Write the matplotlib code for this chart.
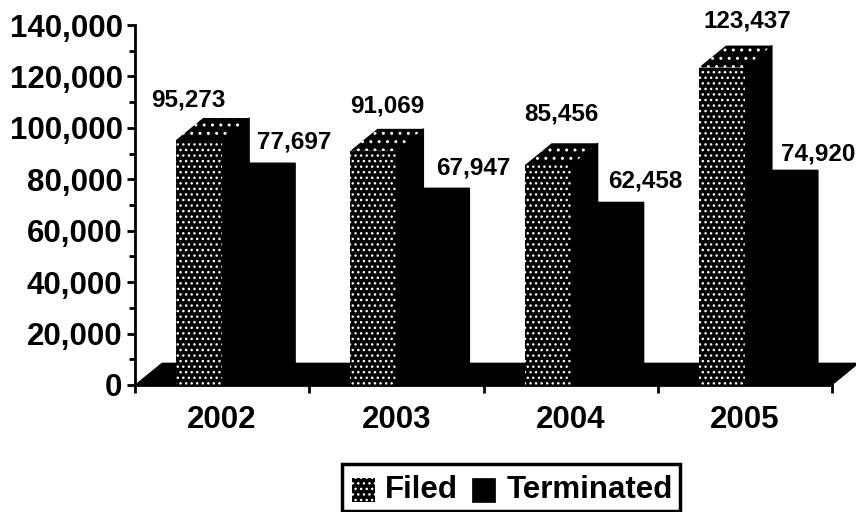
import matplotlib
matplotlib.use("Agg")
import matplotlib.pyplot as plt
from matplotlib.patches import Polygon, Rectangle

years = ["2002", "2003", "2004", "2005"]
filed = [95273, 91069, 85456, 123437]
terminated = [77697, 67947, 62458, 74920]
yticks = [0, 20000, 40000, 60000, 80000, 100000, 120000, 140000]
minor_ticks = [10000, 30000, 50000, 70000, 90000, 110000, 130000]

plt.rcParams["font.family"] = "Liberation Sans"
plt.rcParams["font.weight"] = "bold"
plt.rcParams["hatch.linewidth"] = 1.0

W, H = 856, 512
fig = plt.figure(figsize=(W / 100, H / 100), dpi=100)
# axes box in pixels: x 135..832, y 25..385
ax = fig.add_axes([135 / W, 1 - 385 / H, 697 / W, 360 / H])
ax.set_xlim(0, 4)
ax.set_ylim(0, 140000)

# 3d depth in data units
dx = 27 / 174.25
dy = 22 / 360 * 140000
bw = 0.264


def box(x, v, dots):
    # side and top, then the front
    ax.add_patch(Polygon([(x + bw, 0), (x + bw + dx, dy), (x + bw + dx, v + dy), (x + bw, v)],
                         fc="black", ec="black", lw=1, clip_on=False, zorder=3))
    top = [(x, v), (x + dx, v + dy), (x + bw + dx, v + dy), (x + bw, v)]
    if dots:
        ax.add_patch(Polygon(top, fc="black", ec="white", hatch="..", lw=0,
                             clip_on=False, zorder=3))
        ax.add_patch(Rectangle((x, 0), bw, v, fc="black", ec="white", hatch="...", lw=0,
                               clip_on=False, zorder=4))
    else:
        ax.add_patch(Polygon(top, fc="black", ec="black", lw=1, clip_on=False, zorder=3))
        ax.add_patch(Rectangle((x, 0), bw, v, fc="black", ec="black", lw=1,
                               clip_on=False, zorder=4))


# floor
ax.add_patch(Polygon([(0, 0), (dx, dy), (4 + dx, dy), (4, 0)], fc="black", ec="black",
                     lw=0.5, clip_on=False, zorder=1))

for i in range(4):
    box(i + 0.5 - bw, filed[i], True)
    box(i + 0.5, terminated[i], False)

label_pos_filed = [(188, 100), (387, 106), (561, 114), (747, 21)]
label_pos_term = [(294, 142), (473, 168), (645, 181), (818, 154)]
for i in range(4):
    fig.text(label_pos_filed[i][0] / W, 1 - label_pos_filed[i][1] / H, f"{filed[i]:,}",
             fontsize=17.5, ha="center", va="center")
    fig.text(label_pos_term[i][0] / W, 1 - label_pos_term[i][1] / H, f"{terminated[i]:,}",
             fontsize=17.5, ha="center", va="center")

for s in ["top", "right"]:
    ax.spines[s].set_visible(False)
ax.spines["left"].set_linewidth(2)
ax.spines["bottom"].set_linewidth(2)
ax.set_yticks(yticks)
ax.set_yticklabels([f"{v:,}" for v in yticks], fontsize=22.5)
ax.set_yticks(minor_ticks, minor=True)
ax.tick_params(axis="y", which="major", length=6, width=2, pad=3)
ax.tick_params(axis="y", which="minor", length=4, width=2)
ax.set_xticks([0, 1, 2, 3, 4])
ax.set_xticklabels([])
ax.tick_params(axis="x", length=6, width=2)
for i, y in enumerate(years):
    ax.text(i + 0.5, -13600, y, fontsize=22.5, ha="center", va="center")

# legend box
fig.add_artist(Rectangle((342 / W, 1 - 511 / H), 338 / W, 47 / H, transform=fig.transFigure,
                         fc="white", ec="black", lw=2.5))
fig.add_artist(Rectangle((352 / W, 1 - 502 / H), 23 / W, 24 / H, transform=fig.transFigure,
                         fc="black", ec="white", hatch="...", lw=0))
fig.add_artist(Rectangle((472 / W, 1 - 502 / H), 23 / W, 24 / H, transform=fig.transFigure,
                         fc="black", ec="black", lw=0.5))
fig.text(385 / W, 1 - 490 / H, "Filed", fontsize=22.5, ha="left", va="center")
fig.text(507 / W, 1 - 490 / H, "Terminated", fontsize=22.5, ha="left", va="center")

fig.savefig("out.png", dpi=100, facecolor="white")
